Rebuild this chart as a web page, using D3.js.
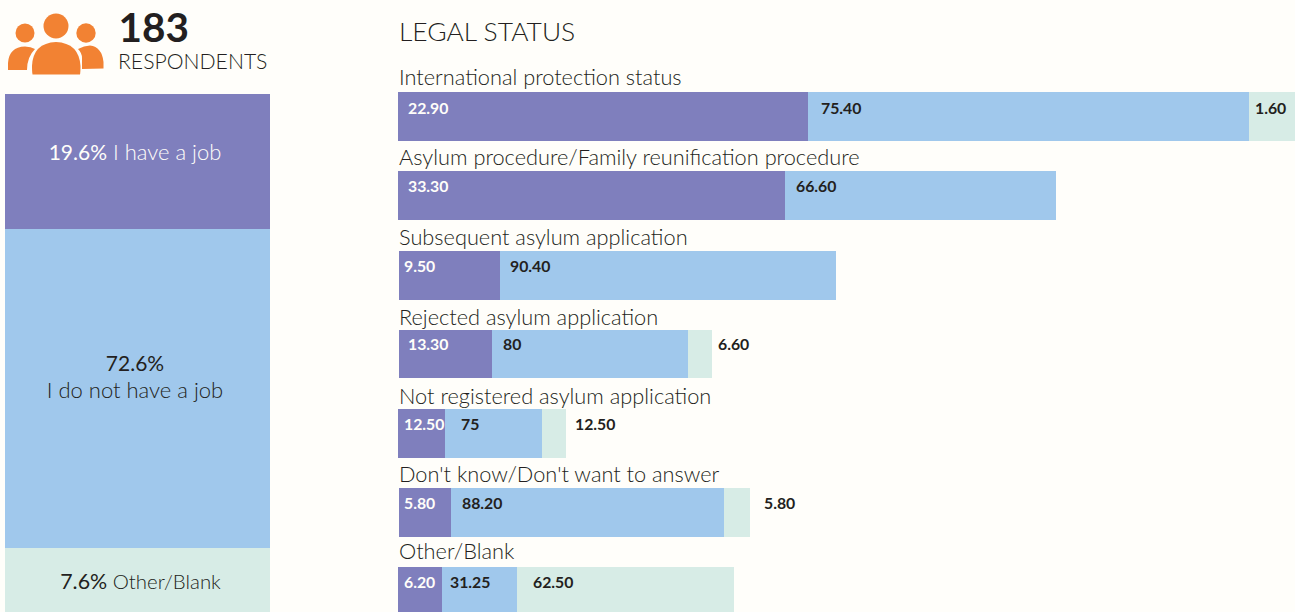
<!DOCTYPE html>
<html><head><meta charset="utf-8">
<script src="https://cdn.jsdelivr.net/npm/d3@7"></script>
<style>html,body{margin:0;padding:0;background:#fffefa}svg{display:block}text{font-family:Lato,sans-serif}</style>
</head><body><div id="c"></div>
<script>
const respondents = "183";
const jobLabels = [["19.6%"," I have a job"],["72.6%","I do not have a job"],["7.6%"," Other/Blank"]];
// drawn heights of the left column (not proportional to its labels)
const jobDrawn = [135, 319, 64];
const categories = ["International protection status","Asylum procedure/Family reunification procedure","Subsequent asylum application","Rejected asylum application","Not registered asylum application","Don't know/Don't want to answer","Other/Blank"];
const valueLabels = [["22.90","75.40","1.60"],["33.30","66.60"],["9.50","90.40"],["13.30","80","6.60"],["12.50","75","12.50"],["5.80","88.20","5.80"],["6.20","31.25","62.50"]];
// drawn segment lengths (the original bars are not to a common scale)
const drawnLengths = [[410,441,46],[387,271],[101,336],[93,196,24],[47,97,24],[52,273,26],[44,75,217]];
const segmentColors = ["#7f7fbd","#a0c8ec","#d7ece6"];
const textColors = ["#fffefa","#231f20","#231f20"];

const W=1295,H=612;
const svg=d3.select("#c").append("svg").attr("width",W).attr("height",H);
svg.append("rect").attr("width",W).attr("height",H).attr("fill","#fffefa");
const ink="#231f20";

// icon
const icon=svg.append("g").attr("fill","#f28233");
[[25,33,9.5],[56,26,12.5],[86,33,9.7]].forEach(c=>icon.append("circle").attr("cx",c[0]).attr("cy",c[1]).attr("r",c[2]));
icon.append("path").attr("d","M8 70 L8 63 Q9 47 25 46.5 Q31 46.5 35 49 Q27 57 27 70 Z");
icon.append("path").attr("d","M82 69 L82 58 Q82 53 78 49 Q84 45.5 90 45.5 Q102 47 103.5 62 L103.5 68.500 Z");
icon.append("path").attr("d","M32.500 74.500 Q32 72 32 66 Q33 43 56 42 Q79 43 80.500 66 Q80.500 72 80 74.500 Z");

svg.append("text").attr("x",118.500).attr("y",42).attr("font-size",40.500).attr("font-weight",700).attr("fill",ink).text(respondents);
svg.append("text").attr("x",118).attr("y",68.500).attr("font-size",21.200).attr("font-weight",300).attr("fill",ink).text("RESPONDENTS");

// left column
const yJob=d3.scaleLinear().domain([0,d3.sum(jobDrawn)]).range([94,612]);
let acc=0;
jobDrawn.forEach((v,i)=>{
  const y0=yJob(acc),y1=yJob(acc+v);acc+=v;
  svg.append("rect").attr("x",5).attr("y",y0).attr("width",265).attr("height",y1-y0).attr("fill",segmentColors[i]);
});
const jf=22;
function jobText(cx,y,parts,fill){
  const t=svg.append("text").attr("x",cx).attr("y",y).attr("text-anchor","middle").attr("font-size",jf).attr("fill",fill);
  parts.forEach(p=>t.append("tspan").attr("font-weight",p[1]).attr("font-size",p[2]||jf).text(p[0]));
}
jobText(135,160,[[jobLabels[0][0],400,21],[jobLabels[0][1],300]],"#fffefa");
jobText(135,371,[[jobLabels[1][0],400,21]],ink);
jobText(135,398,[[jobLabels[1][1],300]],ink);
jobText(140.500,589,[[jobLabels[2][0],400,21.400],[jobLabels[2][1],300,20.400]],ink);

// right
svg.append("text").attr("x",399).attr("y",41).attr("font-size",26.400).attr("font-weight",300).attr("fill",ink).text("LEGAL STATUS");

const x=d3.scaleLinear().domain([0,897]).range([0,897]);
const rowStart=[398,398,399,399,398,399,398];
const rowTops=[92,171,251,330,409,488,567];
const rowH=[49,49,49,48,49,49,45];
const catY=[85,165,245,325,404,482,559];
const valY=[114,192,272,350,430,509,588];
const labelX=[[408,821,1255],[408,796],[404,510],[408,503,718],[404,461,575],[404,462,764],[404,450,533]];
categories.forEach((c,r)=>{
  const top=rowTops[r];
  svg.append("text").attr("x",399).attr("y",catY[r]).attr("font-size",21.750).attr("font-weight",300).attr("fill",ink).text(c);
  let s=0;
  drawnLengths[r].forEach((v,i)=>{
    svg.append("rect").attr("x",rowStart[r]+x(s)).attr("y",top).attr("width",x(s+v)-x(s)).attr("height",rowH[r]).attr("fill",segmentColors[i]);
    s+=v;
  });
  valueLabels[r].forEach((l,i)=>{
    svg.append("text").attr("x",labelX[r][i]).attr("y",valY[r]).attr("font-size",15.800).attr("font-weight",700).attr("fill",textColors[i]).text(l);
  });
});
</script></body></html>
